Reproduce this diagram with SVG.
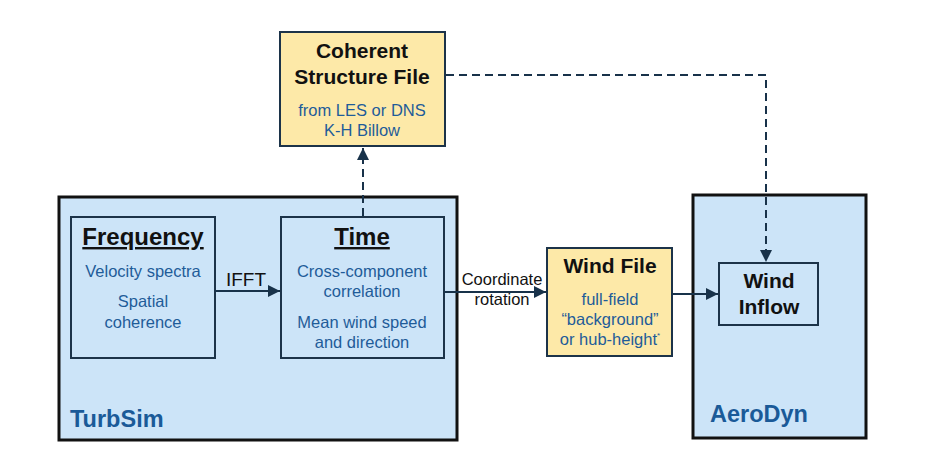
<svg xmlns="http://www.w3.org/2000/svg" width="929" height="472" viewBox="0 0 929 472">
<style>
.outer{fill:#cce4f8;stroke:#111;stroke-width:3}
.inner{fill:#cce4f8;stroke:#1c3349;stroke-width:2}
.yel{fill:#fde9a8;stroke:#1c3349;stroke-width:2}
.t{font-family:"Liberation Sans",Arial,sans-serif;text-anchor:middle}
.b{font-weight:bold;fill:#111}
.blue{fill:#1f5c99;font-size:16.5px}
.lbl{font-weight:bold;fill:#1a5a98;font-size:23.5px;font-family:"Liberation Sans",Arial,sans-serif}
.con{fill:none;stroke:#18324a;stroke-width:2}
.dash{stroke-dasharray:8 5}
</style>
<defs>
<marker id="ah" viewBox="0 0 10 10" refX="10" refY="5" markerWidth="6" markerHeight="6" orient="auto" markerUnits="strokeWidth">
<path d="M0,0 L10,5 L0,10 z" fill="#18324a"/>
</marker>
</defs>
<rect width="929" height="472" fill="#fff"/>
<g id="turbsim">
<rect class="outer" x="59" y="197" width="398" height="243"/>
<text class="lbl" x="70" y="427">TurbSim</text>
</g>
<g id="aerodyn">
<rect class="outer" x="693" y="195" width="173" height="243"/>
<text class="lbl" x="710" y="422">AeroDyn</text>
</g>
<g id="frequency">
<rect class="inner" x="71" y="217" width="144" height="141"/>
<text class="t b" x="143" y="245" font-size="24" text-decoration="underline">Frequency</text>
<text class="t blue" x="143" y="277">Velocity spectra</text>
<text class="t blue" x="143" y="307">Spatial</text>
<text class="t blue" x="143" y="328">coherence</text>
</g>
<g id="time">
<rect class="inner" x="281" y="217" width="163" height="141"/>
<text class="t b" x="362" y="245" font-size="24" text-decoration="underline">Time</text>
<text class="t blue" x="362" y="277">Cross-component</text>
<text class="t blue" x="362" y="297">correlation</text>
<text class="t blue" x="362" y="328">Mean wind speed</text>
<text class="t blue" x="362" y="348">and direction</text>
</g>
<g id="coherent">
<rect class="yel" x="280" y="32" width="165" height="114"/>
<text class="t b" x="362" y="58" font-size="21">Coherent</text>
<text class="t b" x="362" y="84" font-size="21">Structure File</text>
<text class="t blue" x="362" y="116">from LES or DNS</text>
<text class="t blue" x="362" y="136">K-H Billow</text>
</g>
<g id="windfile">
<rect class="yel" x="547" y="248" width="125" height="108"/>
<text class="t b" x="610" y="273" font-size="21">Wind File</text>
<text class="t blue" x="610" y="305">full-field</text>
<text class="t blue" x="610" y="325">“background”</text>
<text class="t blue" x="610" y="345">or hub-height<tspan font-size="8" dy="-7">*</tspan></text>
</g>
<g id="windinflow">
<rect class="inner" x="719" y="263" width="99" height="62"/>
<text class="t b" x="769" y="288" font-size="21">Wind</text>
<text class="t b" x="769" y="314" font-size="21">Inflow</text>
</g>
<g id="connectors">
<line class="con" x1="215" y1="291" x2="280" y2="291" marker-end="url(#ah)"/>
<text class="t" x="246" y="286" font-size="19" fill="#111">IFFT</text>
<line class="con" x1="444" y1="292" x2="546" y2="292" marker-end="url(#ah)"/>
<text class="t" x="502" y="285" font-size="16.5" fill="#111">Coordinate</text>
<text class="t" x="502" y="305" font-size="16.5" fill="#111">rotation</text>
<line class="con" x1="672" y1="294" x2="718" y2="294" marker-end="url(#ah)"/>
<line class="con dash" x1="363" y1="216" x2="363" y2="148" marker-end="url(#ah)"/>
<polyline class="con dash" points="446,75 766,75 766,262" marker-end="url(#ah)"/>
</g>
</svg>
